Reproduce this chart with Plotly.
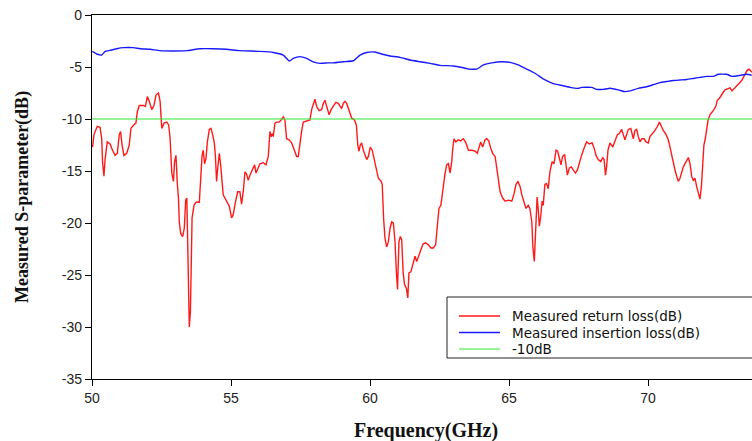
import plotly.graph_objects as go

# Measured return loss (S11) of the transition, frequency in GHz, level in dB
return_loss_freq = [
    50.02, 50.07, 50.19, 50.29, 50.35, 50.38, 50.43, 50.47, 50.55, 50.65, 50.74, 50.83, 50.91,
    50.98, 51.03, 51.08, 51.15, 51.25, 51.34, 51.40, 51.49, 51.58, 51.63, 51.70, 51.85, 51.92,
    51.99, 52.06, 52.15, 52.23, 52.30, 52.39, 52.45, 52.51, 52.59, 52.69, 52.76, 52.81, 52.87,
    52.93, 52.97, 53.02, 53.07, 53.11, 53.14, 53.19, 53.26, 53.32, 53.37, 53.41, 53.43, 53.47,
    53.50, 53.54, 53.57, 53.60, 53.67, 53.74, 53.86, 53.91, 53.96, 54.00, 54.05, 54.10, 54.15,
    54.22, 54.28, 54.34, 54.40, 54.44, 54.48, 54.53, 54.58, 54.63, 54.68, 54.72, 54.78, 54.87,
    54.94, 55.02, 55.08, 55.16, 55.24, 55.32, 55.38, 55.44, 55.50, 55.56, 55.62, 55.68, 55.78,
    55.85, 55.90, 55.98, 56.04, 56.16, 56.26, 56.34, 56.40, 56.44, 56.49, 56.52, 56.58, 56.64,
    56.73, 56.80, 56.88, 56.94, 57.00, 57.09, 57.18, 57.28, 57.36, 57.42, 57.48, 57.54, 57.60,
    57.72, 57.84, 57.90, 57.96, 58.02, 58.08, 58.17, 58.26, 58.32, 58.38, 58.44, 58.53, 58.60,
    58.68, 58.77, 58.86, 58.92, 58.98, 59.04, 59.10, 59.16, 59.25, 59.34, 59.44, 59.51, 59.56,
    59.60, 59.65, 59.70, 59.76, 59.82, 59.88, 59.94, 60.01, 60.08, 60.16, 60.24, 60.30, 60.40,
    60.44, 60.49, 60.54, 60.60, 60.66, 60.72, 60.78, 60.84, 60.90, 60.95, 60.99, 61.04, 61.09,
    61.14, 61.19, 61.24, 61.31, 61.36, 61.40, 61.47, 61.55, 61.62, 61.68, 61.76, 61.84, 61.91,
    62.00, 62.10, 62.19, 62.28, 62.36, 62.43, 62.48, 62.55, 62.64, 62.70, 62.76, 62.82, 62.88,
    62.94, 62.97, 63.02, 63.09, 63.18, 63.26, 63.36, 63.45, 63.54, 63.66, 63.78, 63.86, 63.93,
    63.98, 64.05, 64.14, 64.20, 64.27, 64.34, 64.41, 64.50, 64.56, 64.62, 64.68, 64.77, 64.86,
    64.98, 65.10, 65.18, 65.25, 65.32, 65.40, 65.46, 65.54, 65.61, 65.69, 65.75, 65.82, 65.86,
    65.91, 65.96, 66.01, 66.05, 66.09, 66.14, 66.19, 66.23, 66.29, 66.35, 66.41, 66.47, 66.55,
    66.62, 66.69, 66.75, 66.81, 66.87, 66.93, 67.00, 67.05, 67.10, 67.17, 67.24, 67.31, 67.39,
    67.46, 67.53, 67.61, 67.70, 67.79, 67.89, 67.99, 68.06, 68.13, 68.21, 68.30, 68.37, 68.42,
    68.47, 68.51, 68.56, 68.63, 68.73, 68.81, 68.90, 68.97, 69.05, 69.11, 69.17, 69.23, 69.29,
    69.38, 69.42, 69.47, 69.53, 69.59, 69.65, 69.71, 69.78, 69.86, 69.93, 70.01, 70.07, 70.17,
    70.25, 70.34, 70.41, 70.48, 70.55, 70.65, 70.73, 70.79, 70.85, 70.91, 70.97, 71.03, 71.09,
    71.15, 71.21, 71.27, 71.37, 71.45, 71.51, 71.57, 71.63, 71.69, 71.75, 71.81, 71.87, 71.92,
    71.97, 72.01, 72.06, 72.11, 72.16, 72.23, 72.29, 72.37, 72.45, 72.49, 72.57, 72.61, 72.69,
    72.77, 72.85, 72.95, 73.02, 73.09, 73.19, 73.29, 73.37, 73.45, 73.50, 73.57, 73.64, 73.73,
]
return_loss_db = [
    -12.7, -11.5, -10.7, -10.8, -11.9, -14.2, -15.5, -13.9, -12.2, -12.4, -13.0, -13.5, -13.3,
    -11.5, -11.2, -12.5, -13.5, -13.3, -12.5, -10.9, -10.6, -10.4, -9.3, -8.7, -8.7, -8.8,
    -7.85, -8.3, -9.1, -8.7, -7.7, -7.5, -8.3, -10.9, -10.4, -10.3, -10.6, -11.9, -15.2,
    -16.0, -14.1, -13.5, -16.3, -17.6, -19.9, -21.0, -21.3, -20.5, -17.8, -17.6, -20.2, -27.9,
    -30.0, -28.5, -23.1, -19.5, -18.3, -18.0, -18.0, -16.0, -13.5, -13.0, -14.3, -13.8, -12.2,
    -11.0, -10.9, -11.5, -12.3, -13.6, -16.0, -14.5, -13.3, -14.5, -16.0, -17.3, -17.6, -18.0,
    -18.4, -19.5, -19.2, -18.0, -17.0, -17.0, -18.2, -17.0, -15.1, -15.3, -15.9, -15.4, -14.7,
    -14.4, -15.2, -14.7, -14.3, -14.2, -14.4, -13.6, -11.2, -11.7, -11.4, -11.7, -10.4, -10.3,
    -10.3, -10.1, -9.8, -10.1, -11.9, -12.0, -12.3, -13.0, -13.6, -13.6, -12.3, -11.2, -10.3,
    -10.2, -10.1, -9.1, -8.5, -8.1, -8.8, -9.2, -9.1, -8.5, -8.2, -8.7, -9.6, -9.1,
    -8.7, -8.4, -8.5, -8.8, -9.0, -8.5, -8.3, -8.5, -9.3, -9.9, -10.1, -10.6, -12.5,
    -13.1, -12.5, -12.3, -13.0, -13.5, -13.9, -13.6, -12.7, -13.0, -13.9, -15.0, -15.7, -16.0,
    -16.3, -19.6, -21.5, -22.3, -21.8, -20.5, -19.9, -20.0, -21.8, -24.8, -26.4, -21.8, -21.3,
    -21.6, -24.7, -25.9, -26.3, -27.2, -24.8, -24.7, -24.0, -23.2, -23.7, -23.1, -22.6, -22.0,
    -21.9, -22.1, -22.4, -22.4, -22.1, -19.9, -18.6, -18.3, -16.3, -15.2, -14.4, -14.3, -15.2,
    -14.1, -13.0, -11.9, -12.2, -12.0, -12.1, -11.9, -12.3, -13.0, -13.0, -13.1, -13.3, -12.7,
    -12.2, -12.7, -12.0, -11.9, -12.1, -12.8, -13.3, -13.6, -14.6, -16.0, -17.0, -17.6, -17.9,
    -17.8, -17.9, -17.2, -16.3, -16.0, -16.5, -17.3, -18.1, -18.6, -18.3, -18.6, -19.9, -22.4,
    -23.7, -20.5, -17.5, -18.7, -20.3, -19.4, -17.9, -18.3, -16.3, -16.2, -16.7, -15.1, -14.1,
    -14.3, -13.0, -13.1, -13.9, -14.4, -13.6, -13.4, -14.4, -15.4, -14.7, -14.6, -14.9, -15.2,
    -14.9, -14.2, -13.5, -12.8, -12.2, -12.4, -12.3, -12.8, -13.5, -13.9, -14.1, -13.7, -13.9,
    -15.4, -14.6, -13.0, -12.3, -12.7, -12.2, -11.5, -11.4, -11.0, -11.5, -12.0, -11.5, -11.0,
    -10.9, -11.3, -11.9, -11.1, -11.0, -11.7, -12.2, -11.9, -11.9, -12.2, -12.3, -11.7, -11.4,
    -11.1, -10.7, -10.3, -10.7, -11.1, -11.5, -12.0, -12.7, -13.5, -14.3, -14.9, -15.5, -16.0,
    -15.7, -15.1, -14.6, -14.1, -13.7, -14.3, -15.5, -15.9, -15.7, -16.5, -17.1, -17.7, -16.5,
    -14.6, -12.5, -11.9, -10.9, -10.1, -9.6, -9.4, -9.1, -8.7, -8.2, -8.0, -7.8, -7.5,
    -7.2, -7.1, -7.0, -7.3, -7.1, -6.9, -6.6, -6.3, -5.9, -5.6, -5.3, -5.2, -5.5,
]

# Measured insertion loss (S21)
insertion_loss_freq = [
    50.01, 50.17, 50.35, 50.47, 50.65, 50.89, 51.13, 51.49, 51.73, 52.09, 52.45, 52.93, 53.41,
    53.88, 54.36, 54.84, 55.32, 56.04, 56.52, 56.88, 57.00, 57.10, 57.24, 57.48, 57.72, 57.96,
    58.20, 58.50, 58.68, 59.04, 59.40, 59.64, 59.88, 60.18, 60.48, 60.72, 61.08, 61.44, 61.80,
    62.16, 62.52, 63.00, 63.36, 63.54, 63.84, 64.08, 64.38, 64.74, 65.04, 65.33, 65.63, 65.93,
    66.23, 66.59, 66.95, 67.20, 67.49, 67.61, 67.97, 68.15, 68.39, 68.63, 68.93, 69.17, 69.35,
    69.65, 69.95, 70.19, 70.43, 70.67, 70.91, 71.15, 71.39, 71.63, 71.87, 72.11, 72.35, 72.53,
    72.83, 73.01, 73.31, 73.55, 73.73,
]
insertion_loss_db = [
    -3.5, -3.75, -3.85, -3.5, -3.4, -3.24, -3.14, -3.14, -3.24, -3.3, -3.43, -3.46, -3.43,
    -3.24, -3.24, -3.3, -3.43, -3.5, -3.6, -3.85, -4.17, -4.43, -4.17, -4.0, -4.17, -4.5,
    -4.65, -4.6, -4.6, -4.5, -4.4, -3.85, -3.6, -3.56, -3.8, -3.94, -4.07, -4.33, -4.49,
    -4.65, -4.84, -4.9, -5.07, -5.2, -5.2, -4.8, -4.6, -4.49, -4.55, -4.8, -5.2, -5.6,
    -6.15, -6.6, -6.8, -6.96, -7.05, -6.96, -6.96, -7.15, -7.15, -7.05, -7.2, -7.37, -7.3,
    -7.05, -6.9, -6.7, -6.5, -6.4, -6.3, -6.25, -6.2, -6.1, -6.0, -5.9, -5.9, -5.7,
    -5.7, -5.9, -5.8, -5.7, -5.8,
]

# -10 dB reference level across the band
reference_freq = [50, 73.74]
reference_db = [-10, -10]

x_ticks = [50, 55, 60, 65, 70]
y_ticks = [0, -5, -10, -15, -20, -25, -30, -35]

series_names = ["Measured return loss(dB)", "Measured insertion loss(dB)", "-10dB"]
series_colors = ["#ff1a1a", "#1a1aff", "#33e633"]
series_widths = [1.4, 1.4, 1.2]

fig = go.Figure()
fig.add_trace(go.Scatter(
    x=return_loss_freq, y=return_loss_db, mode="lines", name=series_names[0],
    line=dict(color=series_colors[0], width=series_widths[0]),
))
fig.add_trace(go.Scatter(
    x=insertion_loss_freq, y=insertion_loss_db, mode="lines", name=series_names[1],
    line=dict(color=series_colors[1], width=series_widths[1], shape="spline", smoothing=0.4),
))
fig.add_trace(go.Scatter(
    x=reference_freq, y=reference_db, mode="lines", name=series_names[2],
    line=dict(color=series_colors[2], width=series_widths[2]),
))

# Plot-area geometry in pixels, used to place the boxed key in paper coordinates
W, H = 752, 441
ML, MR, MT, MB = 92, 0, 15, 62
PW, PH = W - ML - MR, H - MT - MB


def px_x(px):
    return (px - ML) / PW


def px_y(py):
    return (H - MB - py) / PH


# Boxed key in the lower-right corner of the plot
shapes = [dict(
    type="rect", xref="paper", yref="paper",
    x0=px_x(447), x1=px_x(775), y0=px_y(358), y1=px_y(297),
    line=dict(color="#222222", width=1), fillcolor="white", layer="above",
)]
annotations = []
key_rows = [316, 332.5, 349]
for name, color, lw, row in zip(series_names, series_colors, series_widths, key_rows):
    shapes.append(dict(
        type="line", xref="paper", yref="paper",
        x0=px_x(459), x1=px_x(500), y0=px_y(row), y1=px_y(row),
        line=dict(color=color, width=lw), layer="above",
    ))
    annotations.append(dict(
        text=name, xref="paper", yref="paper", x=px_x(510), y=px_y(row),
        xanchor="left", yanchor="middle", showarrow=False,
        font=dict(family="DejaVu Sans, Verdana, sans-serif", size=13.5, color="#111111"),
    ))

annotations += [
    dict(
        text="<b>Frequency(GHz)</b>", xref="paper", yref="paper",
        x=px_x(426), y=px_y(430), xanchor="center", yanchor="middle", showarrow=False,
        font=dict(family="Liberation Serif, DejaVu Serif, serif", size=20, color="#111111"),
    ),
    dict(
        text="<b>Measured S-parameter(dB)</b>", xref="paper", yref="paper",
        x=px_x(22), y=px_y(197), xanchor="center", yanchor="middle", showarrow=False,
        textangle=-90,
        font=dict(family="Liberation Serif, DejaVu Serif, serif", size=18, color="#111111"),
    ),
]

tick_font = dict(family="Liberation Sans, Arial, sans-serif", size=14, color="#222222")

fig.update_layout(
    width=W, height=H,
    margin=dict(l=ML, r=MR, t=MT, b=MB),
    paper_bgcolor="white", plot_bgcolor="white",
    showlegend=False,
    xaxis=dict(
        range=[50, 73.74], tickvals=x_ticks, ticktext=[str(v) for v in x_ticks],
        showgrid=False, zeroline=False,
        showline=True, linecolor="black", linewidth=1.3, mirror=True,
        ticks="outside", ticklen=6, tickcolor="black", tickfont=tick_font,
    ),
    yaxis=dict(
        range=[-35, 0], tickvals=y_ticks, ticktext=[str(v) for v in y_ticks],
        showgrid=False, zeroline=False,
        showline=True, linecolor="black", linewidth=1.3,
        ticks="outside", ticklen=6, tickcolor="black", tickfont=tick_font,
    ),
    shapes=shapes,
    annotations=annotations,
)

fig.write_html("out.html")
